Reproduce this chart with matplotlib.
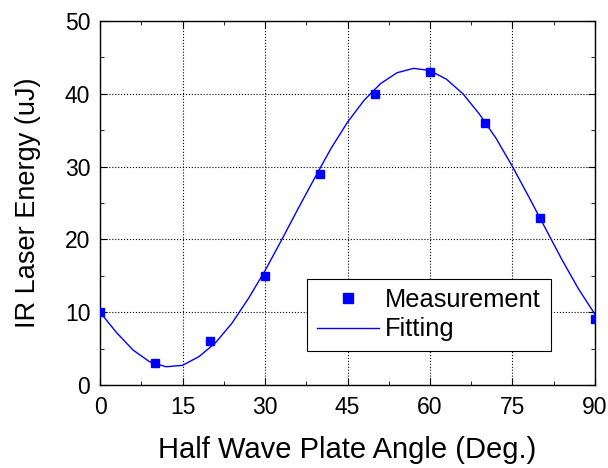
import matplotlib
matplotlib.use("Agg")
import matplotlib.pyplot as plt
from matplotlib.ticker import MultipleLocator

plt.rcParams['font.family'] = ['Liberation Sans', 'DejaVu Sans']

# measured points
angle = [0, 10, 20, 30, 40, 50, 60, 70, 80, 90]
energy = [10, 3, 6, 15, 29, 40, 43, 36, 23, 9]

# fitted curve, every 3 degrees
fit_angle = [0, 3, 6, 9, 12, 15, 18, 21, 24, 27, 30, 33, 36, 39, 42, 45,
             48, 51, 54, 57, 60, 63, 66, 69, 72, 75, 78, 81, 84, 87, 90]
fit_energy = [10.0, 7.2, 4.8, 3.2, 2.5, 2.7, 3.9, 5.8, 8.5, 11.9, 15.7, 19.9,
              24.2, 28.4, 32.5, 36.1, 39.1, 41.4, 42.9, 43.5, 43.2, 42.0,
              40.0, 37.2, 33.9, 30.0, 25.8, 21.5, 17.2, 13.2, 9.7]

fig = plt.figure(figsize=(6.08, 4.68), dpi=100)
ax = fig.add_axes([0.1645, 0.1774, 0.8141, 0.7776])

ax.plot(angle, energy, 's', color='#0000ff', markersize=5.5, label='Measurement', zorder=3)
ax.plot(fit_angle, fit_energy, '-', color='#0000ff', linewidth=1.0, label='Fitting', zorder=2)

ax.set_xlim(0, 90)
ax.set_ylim(0, 50)
ax.xaxis.set_major_locator(MultipleLocator(15))
ax.xaxis.set_minor_locator(MultipleLocator(7.5))
ax.yaxis.set_major_locator(MultipleLocator(10))
ax.yaxis.set_minor_locator(MultipleLocator(5))
ax.tick_params(which='both', direction='in', top=True, right=True, labelsize=16.5)
ax.tick_params(which='major', length=5)
ax.tick_params(axis='x', which='major', pad=8)
ax.tick_params(axis='y', which='major', pad=7)
ax.tick_params(which='minor', length=3)
ax.grid(True, which='major', color='black', linestyle=':', linewidth=0.8)
for s in ax.spines.values():
    s.set_linewidth(1.0)

ax.set_xlabel('Half Wave Plate Angle (Deg.)', fontsize=21, labelpad=12)
ax.set_ylabel('IR Laser Energy (uJ)', fontsize=19.5, labelpad=17)

leg = ax.legend(loc='lower left', bbox_to_anchor=(0.418, 0.093), borderaxespad=0,
                fontsize=18.3, fancybox=False, edgecolor='black', framealpha=1,
                handlelength=2.45, handletextpad=0.25, labelspacing=0.2,
                borderpad=0.38, markerscale=1.2)
leg.get_frame().set_linewidth(0.8)

fig.savefig('out.png', dpi=100)
